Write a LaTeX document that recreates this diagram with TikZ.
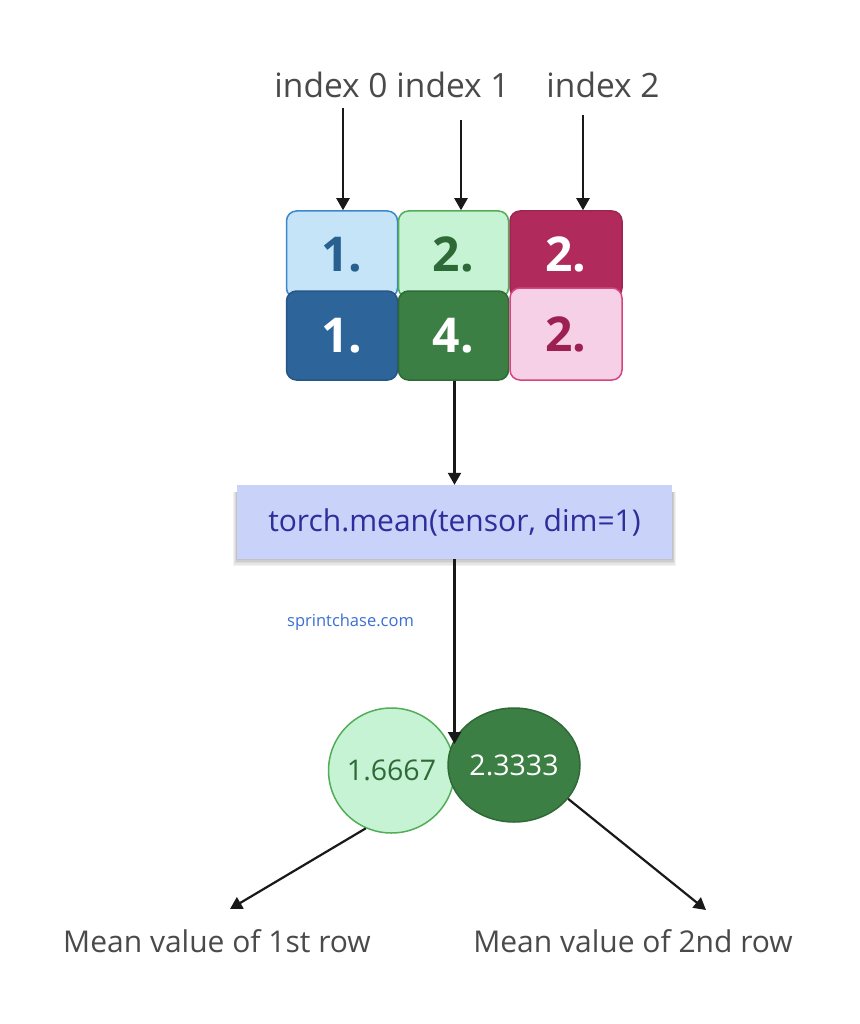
\documentclass[tikz,border=0pt]{standalone}
\usepackage{fontspec}
\setmainfont{Open Sans}
\usetikzlibrary{arrows.meta,shapes.geometric}
\definecolor{lbluef}{HTML}{C6E4F8}
\definecolor{lbluee}{HTML}{3C88CC}
\definecolor{lbluet}{HTML}{28608F}
\definecolor{dbluef}{HTML}{2D659A}
\definecolor{dbluee}{HTML}{255684}
\definecolor{lgreenf}{HTML}{C7F3D5}
\definecolor{lgreene}{HTML}{52AD57}
\definecolor{lgreent}{HTML}{2E6A37}
\definecolor{dgreenf}{HTML}{3C7F44}
\definecolor{dgreene}{HTML}{2F6937}
\definecolor{redf}{HTML}{B02B5B}
\definecolor{rede}{HTML}{9E2551}
\definecolor{pinkf}{HTML}{F6D0E6}
\definecolor{pinke}{HTML}{D6457F}
\definecolor{pinkt}{HTML}{9C2152}
\definecolor{meanf}{HTML}{C9D2F8}
\definecolor{meant}{HTML}{2F2C9C}
\definecolor{webt}{HTML}{3B6FD2}
\definecolor{labt}{HTML}{4A4A4A}
\tikzset{
  arr/.style={line width=2.2pt, draw=black!90, -{Triangle[length=12pt,width=13pt]}},
  cell/.style={rounded corners=10pt, line width=1.5pt, minimum width=111pt, inner sep=0pt, font=\fontsize{48}{52}\selectfont\bfseries},
  lab/.style={text=labt, anchor=base, inner sep=0pt},
  shade/.style={fill=black, opacity=0.05, draw=none},
}
\begin{document}
\begin{tikzpicture}[x=1pt,y=-1pt]
\useasboundingbox[fill=white] (0,0) rectangle (859,1024);
% index labels
\node[lab, font=\fontsize{33.5}{36}\selectfont] (i0) at (331,98) {index 0};
\node[lab, font=\fontsize{33.5}{36}\selectfont] (i1) at (453,98) {index 1};
\node[lab, font=\fontsize{33.5}{36}\selectfont] (i2) at (603,98) {index 2};
% tensor cells
\node[cell, fill=lbluef, draw=lbluee, text=lbluet, minimum height=87pt] (a0) at (342,254.5) {1.};
\node[cell, fill=dbluef, draw=dbluee, text=white, minimum height=89pt] (b0) at (342,335.5) {1.};
\node[cell, fill=lgreenf, draw=lgreene, text=lgreent, minimum height=87pt, minimum width=110pt] (a1) at (453.5,254.5) {2.};
\node[cell, fill=dgreenf, draw=dgreene, text=white, minimum height=89pt, minimum width=110pt] (b1) at (453.5,335.5) {4.};
\node[cell, fill=redf, draw=rede, text=white, minimum height=87pt, minimum width=112pt] (a2) at (566,254.5) {2.};
\node[cell, fill=pinkf, draw=pinke, text=pinkt, minimum height=92pt, minimum width=112pt] (b2) at (566,334) {2.};
% arrows from labels
\coordinate (s0) at (343,108);
\coordinate (s1) at (461,120);
\coordinate (s2) at (583,115);
\draw[arr] (s0) -- (s0 |- a0.north);
\draw[arr] (s1) -- (s1 |- a1.north);
\draw[arr] (s2) -- (s2 |- a2.north);
% soft shadow of mean box
\foreach \e in {1,2.5,4,5.5,7}{
  \fill[shade] (237-\e*0.6,492) rectangle (672+\e*0.6,559+\e);
}
% mean box
\node[fill=meanf, minimum width=435pt, minimum height=74pt, inner sep=0pt,
      text=meant, font=\fontsize{30}{34}\selectfont] (m) at (454.5,522) {torch.mean(tensor, dim=1)};
\draw[arr] (b1.south -| m) -- (m.north);
\node[text=webt, font=\fontsize{16.5}{19}\selectfont, inner sep=0pt] (w) at (350.5,622) {sprintchase.com};
% result circles
\node[ellipse, fill=lgreenf, draw=lgreene, line width=1.5pt, minimum width=123pt, minimum height=125pt, inner sep=0pt,
      text=lgreent, font=\fontsize{28.5}{30}\selectfont] (c1) at (391.5,770.5) {1.6667};
\node[ellipse, fill=dgreenf, draw=dgreene, line width=1.5pt, minimum width=132pt, minimum height=114pt, inner sep=0pt,
      text=white, font=\fontsize{28.5}{30}\selectfont] (c2) at (514,765) {2.3333};
\coordinate (tip) at (454.5,744);
\draw[arr] (m.south) -- (tip);
% bottom labels
\node[lab, font=\fontsize{30}{33}\selectfont] (r1) at (217,952) {Mean value of 1st row};
\node[lab, font=\fontsize{30}{33}\selectfont] (r2) at (633,952) {Mean value of 2nd row};
\coordinate (t1) at (230,909);
\coordinate (t2) at (706,910);
\draw[arr] (c1.-114) -- (t1);
\draw[arr] (c2.-32) -- (t2);
\end{tikzpicture}
\end{document}
